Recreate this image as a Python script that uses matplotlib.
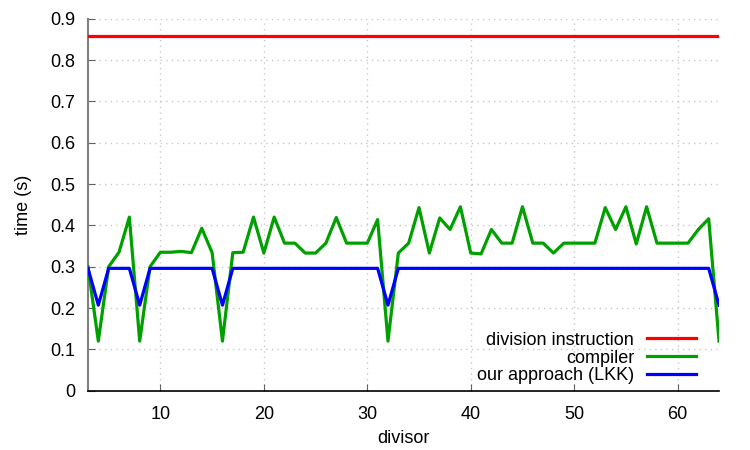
import numpy as np
import matplotlib as mpl
import matplotlib.pyplot as plt

divisors = list(range(3, 65))

division_instr = [0.858] * len(divisors)

compiler = [0.30, 0.12, 0.30, 0.335, 0.42, 0.12, 0.30, 0.335, 0.335, 0.337,
            0.334, 0.393, 0.334, 0.12, 0.334, 0.335, 0.42, 0.333, 0.42, 0.357,
            0.357, 0.333, 0.333, 0.357, 0.419, 0.357, 0.357, 0.357, 0.414, 0.12,
            0.333, 0.357, 0.443, 0.333, 0.418, 0.39, 0.445, 0.333, 0.331, 0.39,
            0.357, 0.357, 0.445, 0.357, 0.357, 0.333, 0.357, 0.357, 0.357, 0.357,
            0.443, 0.39, 0.445, 0.355, 0.445, 0.357, 0.357, 0.357, 0.357, 0.39,
            0.416, 0.12]

lkk = [0.296 if d not in (4, 8, 16, 32, 64) else 0.207 for d in divisors]

mpl.rcParams['font.family'] = ['Liberation Sans', 'DejaVu Sans']
mpl.rcParams['font.size'] = 13

fig = plt.figure(figsize=(7.5, 4.5), dpi=100)
ax = fig.add_axes([0.1173, 0.1318, 0.8414, 0.8266])

ax.plot(divisors, division_instr, color='#ff0000', lw=2.3, label='division instruction', zorder=3)
ax.plot(divisors, compiler, color='#00a000', lw=2.3, label='compiler', zorder=4)
ax.plot(divisors, lkk, color='#0000ff', lw=2.3, label='our approach (LKK)', zorder=5)

ax.set_xlim(3, 64)
ax.set_ylim(0, 0.9)
ax.set_xticks([10, 20, 30, 40, 50, 60])
ax.set_yticks(np.arange(0, 0.91, 0.1))
ax.set_yticklabels(['0', '0.1', '0.2', '0.3', '0.4', '0.5', '0.6', '0.7', '0.8', '0.9'])
ax.grid(color='#c8c8c8', ls=(0, (1, 3)), lw=1.0)

for s in ('top', 'right'):
    ax.spines[s].set_visible(False)
ax.spines['left'].set_color('#808080')
ax.spines['left'].set_linewidth(1.5)
ax.spines['bottom'].set_color('black')
ax.spines['bottom'].set_linewidth(1.2)
ax.tick_params(direction='in', length=5, color='#606060')
ax.tick_params(axis='x', pad=11)
ax.tick_params(axis='y', pad=9)

ax.set_xlabel('divisor', labelpad=5)
ax.set_ylabel('time (s)', labelpad=13)

ax.legend(loc='lower right', bbox_to_anchor=(0.99, -0.027), frameon=False,
          markerfirst=False, handlelength=2.75, labelspacing=0.05,
          handletextpad=0.7, fontsize=13)

fig.savefig('out.png', dpi=100)
